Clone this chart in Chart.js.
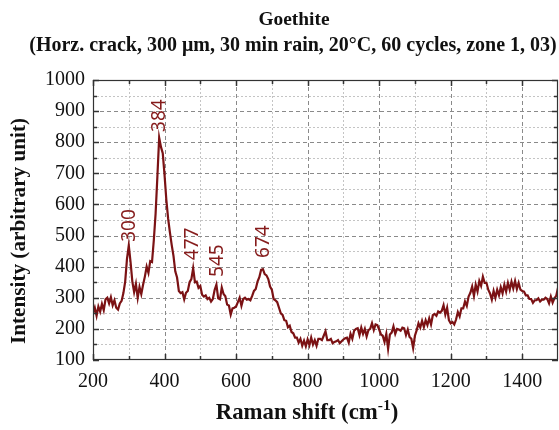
<!DOCTYPE html>
<html lang="en">
<head>
<meta charset="UTF-8">
<title>Goethite Raman spectrum</title>
<script src="https://cdn.jsdelivr.net/npm/chart.js"></script>
<style>
  html, body { margin: 0; padding: 0; background: #fff; }
</style>
</head>
<body>
<canvas id="ramanChart" width="559" height="430"></canvas>
<script>
// Raman shift (cm-1), every 5 cm-1
const ramanShift = [
  200, 205, 210, 215, 220, 225, 230, 235, 240, 245, 250, 255, 260, 265, 270, 275, 280, 285, 290, 295,
  300, 305, 310, 315, 320, 325, 330, 335, 340, 345, 350, 355, 360, 365, 370, 375, 380, 385, 390, 395,
  400, 405, 410, 415, 420, 425, 430, 435, 440, 445, 450, 455, 460, 465, 470, 475, 480, 485, 490, 495,
  500, 505, 510, 515, 520, 525, 530, 535, 540, 545, 550, 555, 560, 565, 570, 575, 580, 585, 590, 595,
  600, 605, 610, 615, 620, 625, 630, 635, 640, 645, 650, 655, 660, 665, 670, 675, 680, 685, 690, 695,
  700, 705, 710, 715, 720, 725, 730, 735, 740, 745, 750, 755, 760, 765, 770, 775, 780, 785, 790, 795,
  800, 805, 810, 815, 820, 825, 830, 835, 840, 845, 850, 855, 860, 865, 870, 875, 880, 885, 890, 895,
  900, 905, 910, 915, 920, 925, 930, 935, 940, 945, 950, 955, 960, 965, 970, 975, 980, 985, 990, 995,
  1000, 1005, 1010, 1015, 1020, 1025, 1030, 1035, 1040, 1045, 1050, 1055, 1060, 1065, 1070, 1075, 1080, 1085, 1090, 1095,
  1100, 1105, 1110, 1115, 1120, 1125, 1130, 1135, 1140, 1145, 1150, 1155, 1160, 1165, 1170, 1175, 1180, 1185, 1190, 1195,
  1200, 1205, 1210, 1215, 1220, 1225, 1230, 1235, 1240, 1245, 1250, 1255, 1260, 1265, 1270, 1275, 1280, 1285, 1290, 1295,
  1300, 1305, 1310, 1315, 1320, 1325, 1330, 1335, 1340, 1345, 1350, 1355, 1360, 1365, 1370, 1375, 1380, 1385, 1390, 1395,
  1400, 1405, 1410, 1415, 1420, 1425, 1430, 1435, 1440, 1445, 1450, 1455, 1460, 1465, 1470, 1475, 1480, 1485, 1490, 1495,
  1500
];
const intensity = [
  250, 268, 242, 272, 255, 280, 260, 295, 300, 282, 302, 276, 292, 268, 262, 282, 290, 315, 352, 425,
  468, 415, 352, 318, 345, 300, 335, 312, 342, 368, 400, 380, 418, 415, 485, 570, 690, 815, 785, 765,
  695, 615, 555, 510, 470, 435, 385, 365, 322, 315, 318, 295, 316, 322, 350, 360, 395, 350, 352, 332,
  338, 310, 304, 308, 296, 300, 288, 296, 325, 342, 298, 295, 333, 312, 305, 278, 275, 246, 266, 268,
  272, 286, 300, 274, 296, 300, 294, 296, 292, 306, 322, 328, 352, 366, 390, 392, 376, 372, 360, 336,
  326, 296, 292, 286, 268, 250, 245, 228, 226, 205, 210, 190, 186, 172, 172, 156, 168, 146, 162, 144,
  166, 148, 172, 150, 164, 146, 168, 168, 164, 178, 192, 164, 164, 168, 154, 158, 160, 164, 154, 160,
  166, 170, 172, 156, 184, 168, 194, 200, 202, 180, 204, 184, 200, 176, 196, 200, 218, 196, 214, 212,
  198, 182, 178, 158, 184, 136, 182, 188, 208, 184, 200, 198, 194, 204, 202, 180, 198, 174, 168, 138,
  178, 196, 218, 204, 226, 206, 228, 212, 234, 214, 244, 248, 242, 256, 252, 258, 276, 246, 268, 228,
  218, 222, 214, 230, 254, 240, 266, 266, 288, 274, 304, 316, 336, 306, 342, 320, 354, 338, 368, 348,
  348, 326, 314, 294, 322, 300, 326, 308, 334, 314, 342, 320, 348, 326, 352, 330, 354, 328, 348, 326,
  322, 320, 308, 308, 296, 296, 284, 292, 292, 298, 288, 294, 294, 300, 296, 282, 304, 284, 298, 306,
  332
];

const xTicks = [200, 400, 600, 800, 1000, 1200, 1400];
const yTicks = [100, 200, 300, 400, 500, 600, 700, 800, 900, 1000];

// peak annotations: position, text, intensity where the label starts
const peakShift = [300, 384, 477, 545, 674];
const peakText = ['300', '384', '477', '545', '674'];
const peakLabelAt = [480, 833, 421, 367, 428];

const titleText = 'Goethite';
const subtitleText = '(Horz. crack, 300 \u03bcm, 30 min rain, 20\u00b0C, 60 cycles, zone 1, 03)';
const xTitleText = 'Raman shift (cm';
const xTitleSup = '-1';
const yTitleText = 'Intensity (arbitrary unit)';

const lineColor = '#7b1214';
const serif = '"Liberation Serif", "DejaVu Serif", serif';

function fitSize(ctx, text, weight, target) {
  ctx.font = weight + ' 100px ' + serif;
  return 100 * target / ctx.measureText(text).width;
}

function midpoints(list) {
  const out = [];
  for (let i = 0; i < list.length - 1; i++) out.push((list[i] + list[i + 1]) / 2);
  return out;
}

const framePlugin = {
  id: 'frame',
  beforeDatasetsDraw(chart) {
    const { ctx, chartArea: a, scales: { x, y } } = chart;
    ctx.save();
    ctx.lineWidth = 1;
    // minor grid (dotted, light)
    ctx.strokeStyle = '#c4c4c4';
    ctx.setLineDash([2, 2]);
    midpoints(xTicks).forEach(v => {
      const px = Math.round(x.getPixelForValue(v)) + 0.5;
      ctx.beginPath(); ctx.moveTo(px, a.top); ctx.lineTo(px, a.bottom); ctx.stroke();
    });
    midpoints(yTicks).forEach(v => {
      const py = Math.round(y.getPixelForValue(v)) + 0.5;
      ctx.beginPath(); ctx.moveTo(a.left, py); ctx.lineTo(a.right, py); ctx.stroke();
    });
    // major grid (dashed, darker)
    ctx.strokeStyle = '#8a8a8a';
    ctx.setLineDash([4, 3]);
    xTicks.slice(1).forEach(v => {
      const px = Math.round(x.getPixelForValue(v)) + 0.5;
      ctx.beginPath(); ctx.moveTo(px, a.top); ctx.lineTo(px, a.bottom); ctx.stroke();
    });
    yTicks.slice(1, -1).forEach(v => {
      const py = Math.round(y.getPixelForValue(v)) + 0.5;
      ctx.beginPath(); ctx.moveTo(a.left, py); ctx.lineTo(a.right, py); ctx.stroke();
    });
    ctx.restore();
  },
  afterDatasetsDraw(chart) {
    const { ctx, chartArea: a, scales: { x, y } } = chart;
    ctx.save();
    // box
    ctx.strokeStyle = '#333';
    ctx.lineWidth = 1.2;
    ctx.strokeRect(a.left + 0.5, a.top + 0.5, a.right - a.left - 1, a.bottom - a.top - 1);
    // inward ticks on all four sides
    ctx.lineWidth = 1.5;
    const tickX = (v, len) => {
      const px = Math.round(x.getPixelForValue(v)) + 0.5;
      ctx.beginPath();
      ctx.moveTo(px, a.bottom); ctx.lineTo(px, a.bottom - len);
      ctx.moveTo(px, a.top); ctx.lineTo(px, a.top + len);
      ctx.stroke();
    };
    const tickY = (v, len) => {
      const py = Math.round(y.getPixelForValue(v)) + 0.5;
      ctx.beginPath();
      ctx.moveTo(a.left, py); ctx.lineTo(a.left + len, py);
      ctx.moveTo(a.right, py); ctx.lineTo(a.right - len, py);
      ctx.stroke();
    };
    xTicks.forEach(v => tickX(v, 6));
    midpoints(xTicks).forEach(v => tickX(v, 4));
    yTicks.forEach(v => tickY(v, 6));
    midpoints(yTicks).forEach(v => tickY(v, 4));

    // peak labels, rotated
    ctx.fillStyle = '#861c1c';
    ctx.font = '19px "Noto Sans", "Open Sans", sans-serif';
    ctx.textAlign = 'left';
    ctx.textBaseline = 'middle';
    peakShift.forEach((p, i) => {
      ctx.save();
      ctx.translate(x.getPixelForValue(p), y.getPixelForValue(peakLabelAt[i]));
      ctx.rotate(-Math.PI / 2);
      ctx.fillText(peakText[i], 0, 1);
      ctx.restore();
    });
    ctx.restore();
  },
  afterDraw(chart) {
    const ctx = chart.ctx;
    ctx.save();
    ctx.fillStyle = '#111';
    ctx.textAlign = 'center';
    ctx.textBaseline = 'alphabetic';

    ctx.font = 'bold ' + fitSize(ctx, titleText, 'bold', 71).toFixed(1) + 'px ' + serif;
    ctx.fillText(titleText, 294, 25);
    ctx.font = 'bold ' + fitSize(ctx, subtitleText, 'bold', 527).toFixed(1) + 'px ' + serif;
    ctx.fillText(subtitleText, 293, 51);

    // x title with superscript
    const size = fitSize(ctx, xTitleText + ')', 'bold', 170);
    const main = 'bold ' + size.toFixed(1) + 'px ' + serif;
    const sup = 'bold ' + (size * 0.68).toFixed(1) + 'px ' + serif;
    ctx.font = main;
    const w1 = ctx.measureText(xTitleText).width;
    const w3 = ctx.measureText(')').width;
    ctx.font = sup;
    const w2 = ctx.measureText(xTitleSup).width;
    const left = 307 - (w1 + w2 + w3) / 2;
    ctx.textAlign = 'left';
    ctx.font = main;
    ctx.fillText(xTitleText, left, 419);
    ctx.font = sup;
    ctx.fillText(xTitleSup, left + w1, 410);
    ctx.font = main;
    ctx.fillText(')', left + w1 + w2, 419);

    // y title
    ctx.save();
    ctx.translate(25, 231);
    ctx.rotate(-Math.PI / 2);
    ctx.textAlign = 'center';
    ctx.font = 'bold ' + fitSize(ctx, yTitleText, 'bold', 226).toFixed(1) + 'px ' + serif;
    ctx.fillText(yTitleText, 0, 0);
    ctx.restore();
    ctx.restore();
  }
};

const tickFont = { family: serif, size: 20 };

new Chart(document.getElementById('ramanChart').getContext('2d'), {
  type: 'line',
  data: {
    datasets: [{
      data: ramanShift.map((s, i) => ({ x: s, y: intensity[i] })),
      borderColor: lineColor,
      borderWidth: 2.2,
      pointRadius: 0,
      tension: 0,
      fill: false
    }]
  },
  options: {
    responsive: false,
    devicePixelRatio: 1,
    animation: false,
    layout: { padding: { top: 80, right: 1, left: 0, bottom: 0 } },
    plugins: { legend: { display: false }, tooltip: { enabled: false } },
    scales: {
      x: {
        type: 'linear',
        min: 200,
        max: 1500,
        afterBuildTicks: s => { s.ticks = xTicks.map(v => ({ value: v })); },
        afterFit: s => { s.height = 70; },
        ticks: { font: tickFont, color: '#111', padding: 10, maxRotation: 0, autoSkip: false, callback: v => String(v) },
        grid: { display: false, drawTicks: false },
        border: { display: false }
      },
      y: {
        min: 100,
        max: 1000,
        afterBuildTicks: s => { s.ticks = yTicks.map(v => ({ value: v })); },
        afterFit: s => { s.width = 93; },
        ticks: { font: tickFont, color: '#111', padding: 8, autoSkip: false, callback: v => String(v) },
        grid: { display: false, drawTicks: false },
        border: { display: false }
      }
    }
  },
  plugins: [framePlugin]
});
</script>
</body>
</html>
